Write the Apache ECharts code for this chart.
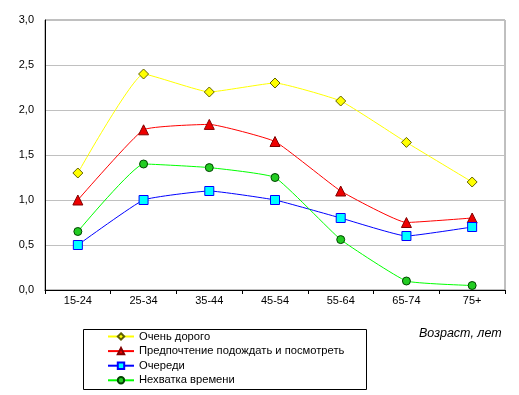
<!DOCTYPE html>
<html><head><meta charset="utf-8">
<script src="https://cdn.jsdelivr.net/npm/echarts@6/dist/echarts.min.js"></script>
<style>html,body{margin:0;padding:0;background:#fff}#c{width:519px;height:395px}</style>
</head><body><div id="c"></div>
<script>
const categories = ['15-24','25-34','35-44','45-54','55-64','65-74','75+'];
const veryExpensive = [1.3, 2.4, 2.2, 2.3, 2.1, 1.64, 1.2];
const waitAndSee = [1.0, 1.78, 1.84, 1.65, 1.1, 0.75, 0.8];
const queues = [0.5, 1.0, 1.1, 1.0, 0.8, 0.6, 0.7];
const lackOfTime = [0.65, 1.4, 1.36, 1.25, 0.56, 0.1, 0.05];
const seriesNames = ['Очень дорого','Предпочтение подождать и посмотреть','Очереди','Нехватка времени'];
const xAxisTitle = 'Возраст, лет';

const font = '"Liberation Sans", Arial, sans-serif';
const chart = echarts.init(document.getElementById('c'), null, {renderer:'canvas'});
function mk(name, data, lineColor, fill, border, symbol, size){
  return {name, type:'line', data, smooth:0.12, symbol, symbolSize:size,
    lineStyle:{color:lineColor, width:1}, itemStyle:{color:fill, borderColor:border, borderWidth:1},
    emphasis:{disabled:true}, animation:false};
}
chart.setOption({
  animation:false,
  textStyle:{fontFamily:font},
  grid:{left:45, top:20, width:460, height:270, show:true, borderColor:'#808080', borderWidth:1},
  xAxis:{type:'category', data:categories, boundaryGap:true,
    axisLine:{lineStyle:{color:'#000', width:1}},
    axisTick:{show:true, length:4, lineStyle:{color:'#000'}},
    axisLabel:{color:'#000', fontSize:11, fontFamily:font, margin:5}},
  yAxis:{type:'value', min:0, max:3, interval:0.5,
    axisLine:{show:true, lineStyle:{color:'#000', width:1}},
    axisTick:{show:false},
    splitLine:{lineStyle:{color:'#c0c0c0', width:1}},
    axisLabel:{color:'#000', fontSize:11, fontFamily:font, margin:11,
      formatter:v=>v.toFixed(1).replace('.',',')}},
  legend:{orient:'vertical', left:107, top:331, itemWidth:26, itemHeight:8, itemGap:3.6,
    textStyle:{fontSize:11.2, color:'#000', fontFamily:font}, padding:0, selectedMode:false},
  graphic:[
    {type:'rect', shape:{x:83.5, y:329.5, width:283, height:60}, style:{fill:'none', stroke:'#000', lineWidth:1}},
    {type:'text', left:419, top:327, style:{text:xAxisTitle, font:'italic 12.5px '+font, fill:'#000'}}
  ],
  series:[
    mk(seriesNames[0], veryExpensive, '#ffff00', '#ffff00', '#606000', 'diamond', 10),
    mk(seriesNames[1], waitAndSee, '#ff0000', '#ee0000', '#800000', 'triangle', 10),
    mk(seriesNames[2], queues, '#0000ff', '#00ffff', '#0000ff', 'rect', 9),
    mk(seriesNames[3], lackOfTime, '#00ff00', '#22cc22', '#004400', 'circle', 8)
  ]
});
</script></body></html>
